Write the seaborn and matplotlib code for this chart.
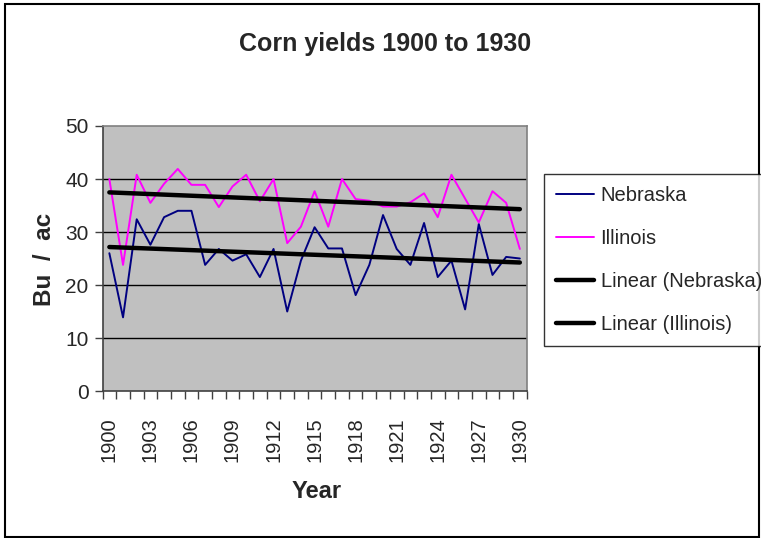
import matplotlib
matplotlib.use("Agg")
import matplotlib.pyplot as plt
from matplotlib import font_manager
from matplotlib.lines import Line2D
from matplotlib.patches import Rectangle
import seaborn as sns
import pandas as pd
import numpy as np

years = list(range(1900, 1931))
nebraska = [26.0, 13.9, 32.4, 27.6, 32.8, 34.0, 34.0, 23.8, 26.8, 24.6,
            25.8, 21.5, 26.8, 15.0, 24.6, 30.9, 26.9, 26.9, 18.1, 23.8,
            33.2, 26.8, 23.8, 31.7, 21.5, 24.6, 15.4, 31.5, 21.9, 25.3, 25.0]
illinois = [40.0, 23.8, 40.8, 35.5, 39.1, 41.9, 38.9, 38.9, 34.7, 38.6,
            40.8, 35.8, 40.0, 27.9, 31.0, 37.7, 31.0, 40.0, 36.2, 35.9,
            34.8, 34.8, 35.6, 37.3, 32.8, 40.8, 36.3, 31.8, 37.7, 35.5, 26.8]
year_ticks = list(range(1900, 1931, 3))
y_ticks = [0, 10, 20, 30, 40, 50]

sns.set_theme(style="white")
avail = {f.name for f in font_manager.fontManager.ttflist}
fam = "Liberation Sans Narrow" if "Liberation Sans Narrow" in avail else "Liberation Sans"
plt.rcParams['font.family'] = [fam, 'DejaVu Sans']

df = pd.DataFrame({
    "Year": years * 2,
    "Yield": nebraska + illinois,
    "State": ["Nebraska"] * len(years) + ["Illinois"] * len(years),
})
palette = {"Nebraska": "#000080", "Illinois": "#FF00FF"}

fig = plt.figure(figsize=(7.61, 5.38), dpi=100)
fig.patch.set_facecolor("white")
ax = fig.add_axes([0.1347, 0.2732, 0.5574, 0.4926])
ax.set_facecolor("#C0C0C0")

sns.lineplot(data=df, x="Year", y="Yield", hue="State", palette=palette,
             linewidth=1.4, ax=ax, legend=False, zorder=3)
for st in ["Nebraska", "Illinois"]:
    sub = df[df.State == st]
    sns.regplot(data=sub, x="Year", y="Yield", scatter=False, ci=None,
                truncate=True, color="black", line_kws={"linewidth": 3.2, "zorder": 4}, ax=ax)

ax.set_xlim(1899.5, 1930.5)
ax.set_ylim(0, 50)
ax.set_yticks(y_ticks)
ax.set_xticks(year_ticks)
ax.set_xticks(np.arange(1899.5, 1931, 1), minor=True)
ax.set_xticklabels([str(y) for y in year_ticks], rotation=90, fontsize=14.5)
ax.set_yticklabels([str(v) for v in y_ticks], fontsize=15)
ax.tick_params(axis="x", which="major", length=0, pad=19)
ax.tick_params(axis="x", which="minor", length=6, width=1, color="#404040", direction="out", bottom=True)
ax.tick_params(axis="y", which="major", length=6, width=1, color="#404040", direction="out", left=True, pad=4)
for v in y_ticks[1:-1]:
    ax.axhline(v, color="black", linewidth=1, zorder=1)
ax.set_xlabel("")
ax.set_ylabel("")
for s in ["top", "right"]:
    ax.spines[s].set_color("#808080")
    ax.spines[s].set_linewidth(1.2)
for s in ["left", "bottom"]:
    ax.spines[s].set_color("#404040")
    ax.spines[s].set_linewidth(1.2)

fig.text(0.506, 0.918, "Corn yields 1900 to 1930", ha="center", va="center",
         fontsize=18, fontweight="bold")
fig.text(0.059, 0.517, "Bu  /  ac", ha="center", va="center", rotation=90,
         fontsize=17.5, fontweight="bold")
fig.text(0.416, 0.087, "Year", ha="center", va="center", fontsize=17, fontweight="bold")

handles = [Line2D([], [], color="#000080", lw=1.4),
           Line2D([], [], color="#FF00FF", lw=1.4),
           Line2D([], [], color="black", lw=3.2),
           Line2D([], [], color="black", lw=3.2)]
labels = ["Nebraska", "Illinois", "Linear (Nebraska)", "Linear (Illinois)"]
leg = fig.legend(handles, labels, loc="upper left", bbox_to_anchor=(0.715, 0.677),
                 frameon=True, fancybox=False, fontsize=14.5, handlelength=1.9,
                 handletextpad=0.3, labelspacing=1.2, borderpad=0.6, borderaxespad=0)
leg.get_frame().set_edgecolor("black")
leg.get_frame().set_linewidth(1)

fig.add_artist(Rectangle((5 / 761, 1 / 538), 754 / 761, 533 / 538, transform=fig.transFigure,
                         fill=False, edgecolor="black", linewidth=1.5))

fig.savefig("out.png", dpi=100)
